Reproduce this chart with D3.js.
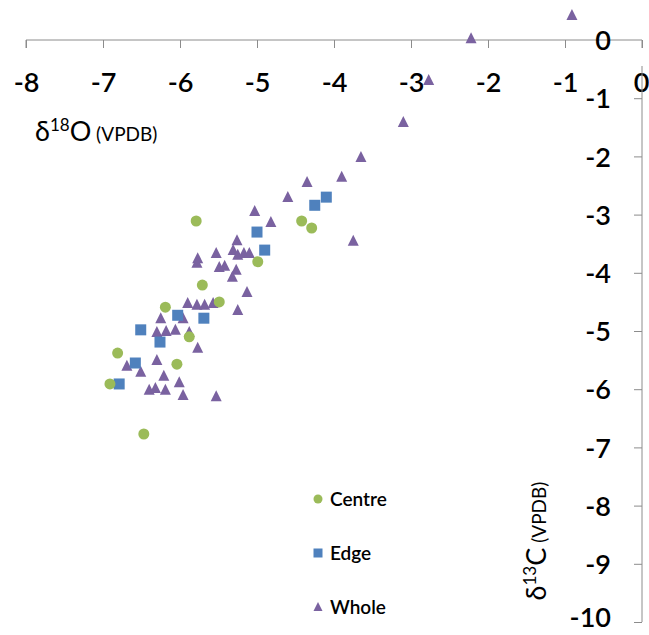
<!DOCTYPE html>
<html>
<head>
<meta charset="utf-8">
<script src="https://cdn.jsdelivr.net/npm/d3@7"></script>
<style>
  body { margin: 0; background: #fff; }
  svg { display: block; }
  text { font-family: Lato, "Open Sans", sans-serif; fill: #000; }
</style>
</head>
<body>
<svg id="chart" width="649" height="635"></svg>
<script>
// ---- data (δ18O, δ13C) ----
const centreX = [-5.79, -4.42, -4.29, -4.99, -5.71, -5.49, -6.19, -5.88, -6.81, -6.04, -6.91, -6.47];
const centreY = [-3.11, -3.11, -3.23, -3.81, -4.21, -4.50, -4.59, -5.10, -5.38, -5.57, -5.91, -6.77];

const edgeX = [-4.10, -4.25, -5.00, -4.90, -6.03, -5.69, -6.51, -6.26, -6.58, -6.79];
const edgeY = [-2.70, -2.84, -3.30, -3.61, -4.73, -4.78, -4.98, -5.19, -5.55, -5.91];

const wholeX = [-0.91, -2.22, -2.77, -3.10, -3.65, -3.90, -4.35, -4.60, -5.03, -4.82,
                -3.75, -5.26, -5.31, -5.25, -5.17, -5.10, -5.53, -5.77, -5.78, -5.49,
                -5.42, -5.27, -5.32, -5.13, -5.90, -5.78, -5.68, -5.57, -5.25, -6.25,
                -5.96, -6.30, -6.18, -6.06, -5.88, -5.77, -6.30, -6.69, -6.51, -6.21,
                -6.01, -6.40, -6.32, -6.19, -5.96, -5.53];
const wholeY = [ 0.43,  0.03, -0.69, -1.41, -2.01, -2.35, -2.44, -2.70, -2.94, -3.13,
                -3.45, -3.44, -3.61, -3.69, -3.66, -3.66, -3.66, -3.75, -3.83, -3.90,
                -3.88, -3.95, -4.07, -4.33, -4.52, -4.55, -4.55, -4.52, -4.64, -4.78,
                -4.78, -5.02, -5.00, -4.98, -5.02, -5.29, -5.50, -5.60, -5.70, -5.77,
                -5.88, -6.01, -5.98, -6.01, -6.10, -6.12];

const xTicks = [-8, -7, -6, -5, -4, -3, -2, -1, 0];
const yTicks = [0, -1, -2, -3, -4, -5, -6, -7, -8, -9, -10];

const seriesNames = ["Centre", "Edge", "Whole"];
const seriesColors = ["#9bbb59", "#4f81bd", "#7a62a0"];

// ---- layout ----
const svg = d3.select("#chart");
const x = d3.scaleLinear().domain([-8, 0]).range([26, 642]);
const y = d3.scaleLinear().domain([0, -10]).range([40, 622]);
const axisColor = "#8c8c8c";

// horizontal axis (at δ13C = 0)
const xAxis = d3.axisBottom(x).tickValues(xTicks).tickSize(8).tickFormat(d => d);
const gx = svg.append("g").attr("transform", `translate(0,${y(0)})`).call(xAxis);
gx.select(".domain").attr("stroke", axisColor).attr("d", `M${x(-8)},8V0H${x(0)}V8`);
gx.selectAll(".tick line").attr("stroke", axisColor);
gx.selectAll(".tick text")
  .attr("y", 0).attr("dy", "0")
  .attr("transform", "translate(0,52)")
  .style("font-size", "27px").style("font-weight", "600");
// the 0 label sits on the vertical axis at the right edge
gx.selectAll(".tick text").filter(d => d === 0).attr("text-anchor", "end").attr("x", 7);

// vertical axis (at δ18O = 0)
const yAxis = d3.axisLeft(y).tickValues(yTicks.filter(d => d !== 0)).tickSize(8).tickFormat(d => d);
const gy = svg.append("g").attr("transform", `translate(${x(0)},0)`).call(yAxis);
gy.select(".domain").attr("stroke", axisColor).attr("d", `M0,66V${y(-10)}`);
gy.selectAll(".tick line").attr("stroke", axisColor);
gy.selectAll(".tick text")
  .attr("x", -31).attr("dy", "0.36em")
  .style("font-size", "27px").style("font-weight", "600");
gy.selectAll(".tick text").filter(d => d === -10).attr("dy", "0.16em");
// label for 0 on vertical axis
svg.append("text").attr("x", x(0) - 31).attr("y", y(0)).attr("dy", "0.36em")
  .attr("text-anchor", "end").style("font-size", "27px").style("font-weight", "600").text(yTicks[0]);

// axis titles
const tx = svg.append("text").attr("x", 35).attr("y", 141).style("font-size", "27px");
tx.append("tspan").text("δ");
tx.append("tspan").attr("dy", -10).style("font-size", "17px").text("18");
tx.append("tspan").attr("dy", 10).text("O");
tx.append("tspan").style("font-size", "19px").text(" (VPDB)");

const ty = svg.append("text").attr("transform", "translate(546,541) rotate(-90)")
  .attr("text-anchor", "middle").style("font-size", "27px");
ty.append("tspan").text("δ");
ty.append("tspan").attr("dy", -10).style("font-size", "17px").text("13");
ty.append("tspan").attr("dy", 10).text("C");
ty.append("tspan").style("font-size", "19px").text(" (VPDB)");

// ---- markers ----
const plot = svg.append("g");
const centre = centreX.map((v, i) => [v, centreY[i]]);
const edge = edgeX.map((v, i) => [v, edgeY[i]]);
const whole = wholeX.map((v, i) => [v, wholeY[i]]);

const triPath = (cx, cy, s) => `M${cx},${cy - s * 0.55}L${cx + s / 2},${cy + s * 0.45}L${cx - s / 2},${cy + s * 0.45}Z`;

plot.selectAll(".whole").data(whole).join("path").attr("class", "whole")
  .attr("d", d => triPath(x(d[0]), y(d[1]), 11))
  .attr("fill", seriesColors[2]);

plot.selectAll(".edge").data(edge).join("rect").attr("class", "edge")
  .attr("x", d => x(d[0]) - 5.5).attr("y", d => y(d[1]) - 5.5)
  .attr("width", 11).attr("height", 11)
  .attr("fill", seriesColors[1]);

plot.selectAll(".centre").data(centre).join("circle").attr("class", "centre")
  .attr("cx", d => x(d[0])).attr("cy", d => y(d[1])).attr("r", 5.5)
  .attr("fill", seriesColors[0]);

// ---- legend ----
const legend = svg.append("g");
const legY = [499, 553, 607];
seriesNames.forEach((name, i) => {
  const g = legend.append("g").attr("transform", `translate(318,${legY[i]})`);
  if (i === 0) g.append("circle").attr("r", 4.5).attr("fill", seriesColors[0]);
  if (i === 1) g.append("rect").attr("x", -4.5).attr("y", -4.5).attr("width", 9).attr("height", 9).attr("fill", seriesColors[1]);
  if (i === 2) g.append("path").attr("d", triPath(0, 0, 9)).attr("fill", seriesColors[2]);
  g.append("text").attr("x", 12).attr("dy", "0.36em").style("font-size", "19px").style("font-weight", "600").text(name);
});
</script>
</body>
</html>
